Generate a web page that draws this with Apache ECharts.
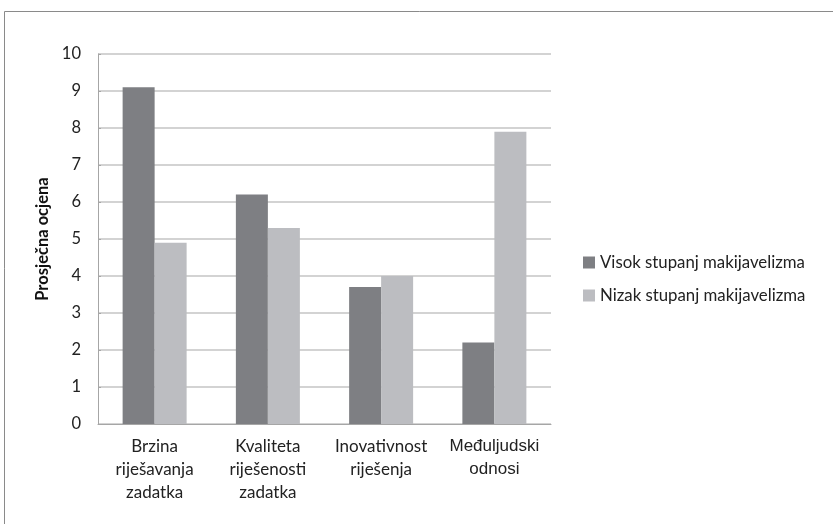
<!DOCTYPE html>
<html>
<head>
<meta charset="utf-8">
<script src="https://cdn.jsdelivr.net/npm/echarts@6/dist/echarts.min.js"></script>
<style>
  html, body { margin: 0; padding: 0; background: #fff; }
  #chart { width: 833px; height: 524px; }
</style>
</head>
<body>
<div id="chart"></div>
<script>
var categories = ['Brzina\nriješavanja\nzadatka', 'Kvaliteta\nriješenosti\nzadatka', 'Inovativnost\nriješenja', 'Međuljudski\nodnosi'];
var seriesNames = ['Visok stupanj makijavelizma', 'Nizak stupanj makijavelizma'];
var visokValues = [9.1, 6.2, 3.7, 2.2];
var nizakValues = [4.9, 5.3, 4.0, 7.9];
var yTicks = [0, 1, 2, 3, 4, 5, 6, 7, 8, 9, 10];

var FONT = 'Lato';

var myChart = echarts.init(document.getElementById('chart'));
myChart.setOption({
  animation: false,
  textStyle: { fontFamily: FONT },
  graphic: [{
    type: 'rect',
    shape: { x: 4.5, y: 11.5, width: 900, height: 600 },
    style: { fill: 'none', stroke: '#8a8a8a', lineWidth: 1 }
  }],
  grid: { left: 98, right: 282, top: 54, bottom: 100 },
  legend: {
    orient: 'vertical',
    left: 578,
    top: 249,
    itemWidth: 12,
    itemHeight: 12,
    itemGap: 16,
    icon: 'rect',
    textStyle: { fontFamily: FONT, fontSize: 16.8, color: '#222' },
    data: seriesNames
  },
  xAxis: {
    type: 'category',
    data: categories,
    axisLine: { lineStyle: { color: '#a6a6a6' } },
    axisTick: { show: false },
    axisLabel: {
      interval: 0,
      margin: 11,
      color: '#222',
      fontSize: 17,
      lineHeight: 23,
      formatter: function (v, i) {
        return i === 3 ? '{big|' + v.split('\n').join('}\n{big|') + '}' : v;
      },
      rich: { big: { fontSize: 17, lineHeight: 23, color: '#222', fontFamily: 'Liberation Sans' } }
    }
  },
  yAxis: {
    type: 'value',
    min: yTicks[0],
    max: yTicks[yTicks.length - 1],
    interval: 1,
    name: 'Prosječna ocjena',
    nameLocation: 'middle',
    nameGap: 40,
    nameTextStyle: { fontFamily: FONT, fontSize: 16.5, fontWeight: 'bold', color: '#111' },
    axisLine: { show: true, lineStyle: { color: '#a6a6a6' } },
    axisTick: { show: true, inside: true, length: 3, lineStyle: { color: '#a6a6a6' } },
    axisLabel: { color: '#222', fontSize: 16.5, margin: 17 },
    splitLine: { lineStyle: { color: '#c4c4c4', width: 1.5 } }
  },
  series: [{
    name: seriesNames[0],
    type: 'bar',
    data: visokValues,
    barWidth: 32,
    barGap: '0%',
    itemStyle: { color: '#7e7f83' }
  }, {
    name: seriesNames[1],
    type: 'bar',
    data: nizakValues,
    barWidth: 32,
    barGap: '0%',
    itemStyle: { color: '#bcbdc1' }
  }]
});
</script>
</body>
</html>
